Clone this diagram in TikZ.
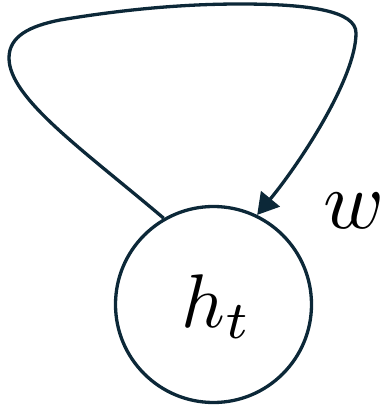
\documentclass[tikz,border=0pt]{standalone}
\usetikzlibrary{arrows.meta}
\definecolor{navy}{RGB}{12,40,56}
\begin{document}
\begin{tikzpicture}[x=1pt,y=1pt,
  stroke/.style={draw=navy,line width=3.3pt},
  statenode/.style={stroke,circle,minimum size=196pt,inner sep=0pt},
  lbl/.style={inner sep=0pt,anchor=base,text=black}]
\useasboundingbox (0,0) rectangle (385,408);
\node[statenode] (h) at (213.5,103.5) {};
\node[lbl,scale=7.6] (ht) at (217,81) {$h_t$};
\node[lbl,scale=8.2] (w) at (354,180) {$w$};
\draw[stroke,-{Triangle[length=21pt,width=24pt]}]
  (h.120) .. controls (82,259) and (9,310) .. (9,350)
  .. controls (9,372) and (30,382) .. (60,388)
  .. controls (120,398) and (180,404) .. (240,404)
  .. controls (310,404) and (356,397) .. (356,375)
  .. controls (356,330) and (300,245) .. (h.64);
\end{tikzpicture}
\end{document}
